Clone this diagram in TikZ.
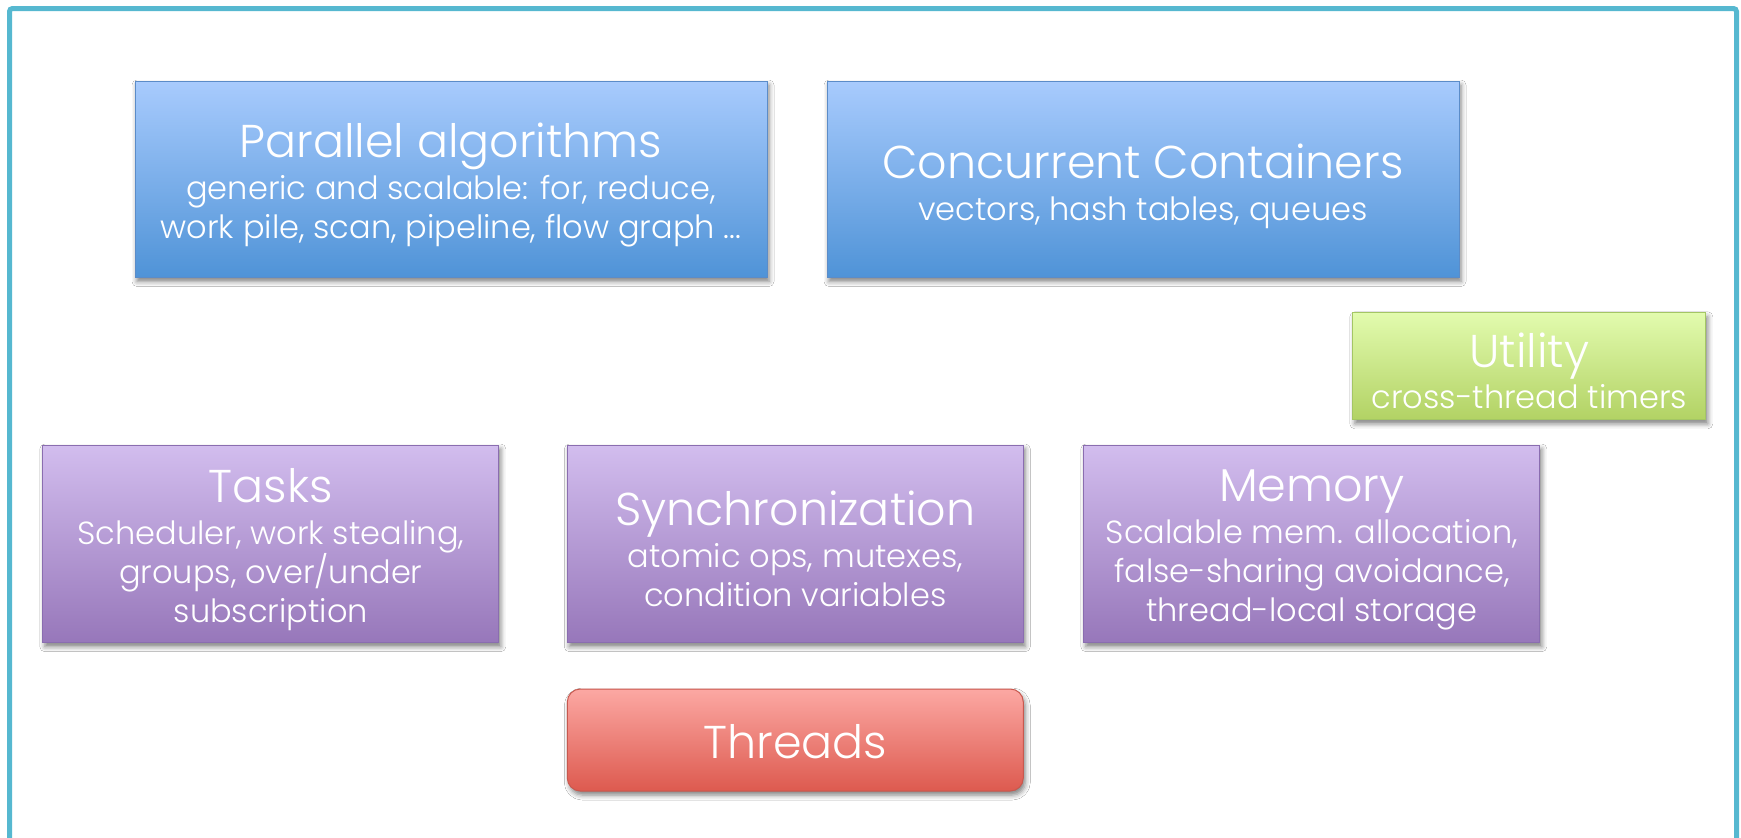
\documentclass[tikz,border=0pt]{standalone}
\usepackage{fontspec}
\setmainfont{Poppins Light}
\usetikzlibrary{shadows.blur}
\definecolor{frameC}{RGB}{86,184,208}
\definecolor{blueT}{RGB}{168,203,253}
\definecolor{blueB}{RGB}{79,147,215}
\definecolor{blueD}{RGB}{91,140,200}
\definecolor{greenT}{RGB}{226,251,174}
\definecolor{greenB}{RGB}{178,210,100}
\definecolor{greenD}{RGB}{164,198,100}
\definecolor{purpT}{RGB}{210,189,238}
\definecolor{purpB}{RGB}{151,119,186}
\definecolor{purpD}{RGB}{138,109,176}
\definecolor{redT}{RGB}{252,168,163}
\definecolor{redB}{RGB}{221,90,79}
\definecolor{redD}{RGB}{200,88,78}
\newcommand\boxtitle[1]{{\fontsize{46}{46}\selectfont #1}}
\tikzset{
  basebox/.style={rectangle, draw=#1, line width=1pt, inner sep=0pt,
    blur shadow={shadow xshift=2pt, shadow yshift=-4pt, shadow blur radius=5pt, shadow opacity=50}},
  bluebox/.style={basebox=blueD, top color=blueT, bottom color=blueB},
  greenbox/.style={basebox=greenD, top color=greenT, bottom color=greenB},
  purpbox/.style={basebox=purpD, top color=purpT, bottom color=purpB},
  redbox/.style={basebox=redD, top color=redT, bottom color=redB, rounded corners=13pt},
  boxtext/.style={text=white, align=center, inner sep=0pt, font=\fontsize{32}{39}\selectfont},
}
\begin{document}
\begin{tikzpicture}[x=1pt, y=-1pt]
\useasboundingbox (0,0) rectangle (1741,838);
\fill[white] (0,0) rectangle (1741,838);
\draw[frameC, line width=5pt, rounded corners=3pt] (9.5,845) -- (9.5,8.5) -- (1736.5,8.5) -- (1736.5,845);

\node[bluebox, minimum width=632pt, minimum height=196.5pt] (par) at (451,179.25) {};
\node[boxtext] (part) at ([yshift=-6pt]par.center)
  {\boxtitle{Parallel algorithms}\\[3pt]generic and scalable: for, reduce,\\work pile, scan, pipeline, flow graph ...};
\node[bluebox, minimum width=632pt, minimum height=196.5pt] (con) at (1143,179.25) {};
\node[boxtext] (cont) at ([yshift=-7pt]con.center)
  {\boxtitle{Concurrent Containers}\\[3pt]vectors, hash tables, queues};
\node[greenbox, minimum width=353pt, minimum height=107pt] (uti) at (1529.3,366.3) {};
\node[boxtext] (utit) at ([yshift=-5pt]uti.center)
  {\boxtitle{Utility}\\[2pt]cross-thread timers};
\node[purpbox, minimum width=456pt, minimum height=197.7pt] (tas) at (270.85,543.85) {};
\node[boxtext] (tast) at ([yshift=-6pt]tas.center)
  {\boxtitle{Tasks}\\[3pt]Scheduler, work stealing,\\groups, over/under\\subscription};
\node[purpbox, minimum width=456pt, minimum height=197.7pt] (syn) at (795.3,543.85) {};
\node[boxtext] (synt) at ([yshift=-5pt]syn.center)
  {\boxtitle{Synchronization}\\[3pt]atomic ops, mutexes,\\condition variables};
\node[purpbox, minimum width=456pt, minimum height=197.7pt] (mem) at (1311.85,543.85) {};
\node[boxtext] (memt) at ([yshift=-6pt]mem.center)
  {\boxtitle{Memory}\\[3pt]Scalable mem. allocation,\\false-sharing avoidance,\\thread-local storage};
\node[redbox, minimum width=456pt, minimum height=102pt] (thr) at (795.3,740) {};
\node[boxtext] (thrt) at ([yshift=-2pt]thr.center) {\boxtitle{Threads}};
\end{tikzpicture}
\end{document}
